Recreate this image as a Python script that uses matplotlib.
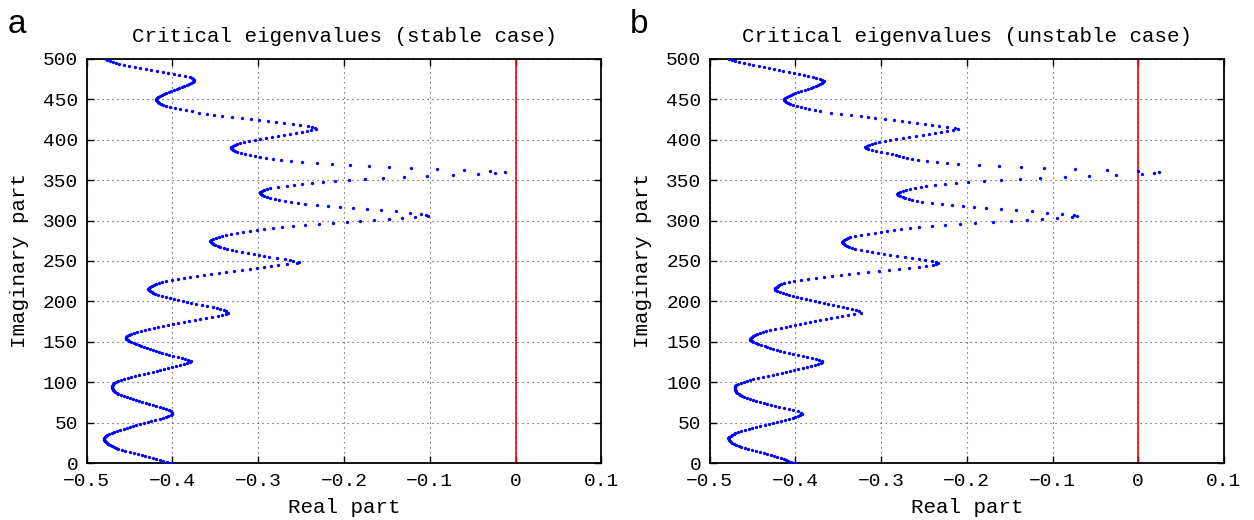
import matplotlib
matplotlib.use("Agg")
import matplotlib.pyplot as plt

# Imaginary parts of the eigenvalues (shared by both panels)
imag_part = [
    0, 2.5, 5, 7.5, 10, 12.5, 15, 17.5, 20, 22.5,
    25, 27.5, 30, 32.5, 35, 37.5, 40, 42.5, 45, 47.5,
    50, 52.5, 55, 57.5, 60, 62.5, 65, 67.5, 70, 72.5,
    75, 77.5, 80, 82.5, 85, 87.5, 90, 92.5, 95, 97.5,
    100, 102.5, 105, 107.5, 110, 112.5, 115, 117.5, 120, 122.5,
    125, 127.5, 130, 132.5, 135, 137.5, 140, 142.5, 145, 147.5,
    150, 152.5, 155, 157.5, 160, 162.5, 165, 167.5, 170, 172.5,
    175, 177.5, 180, 182.5, 185, 187.5, 190, 192.5, 195, 197.5,
    200, 202.5, 205, 207.5, 210, 212.5, 215, 217.5, 220, 222.5,
    225, 227.5, 230, 232.5, 235, 237.5, 240, 242.5, 245, 247.5,
    250, 252.5, 255, 257.5, 260, 262.5, 265, 267.5, 270, 272.5,
    275, 277.5, 280, 282.5, 285, 287.5, 290, 292.5, 295, 297.5,
    300, 302.5, 305, 307.5, 310, 312.5, 315, 317.5, 320, 322.5,
    325, 327.5, 330, 332.5, 335, 337.5, 340, 342.5, 345, 347.5,
    350, 352.5, 355, 357.5, 360, 362.5, 365, 367.5, 370, 372.5,
    375, 377.5, 380, 382.5, 385, 387.5, 390, 392.5, 395, 397.5,
    400, 402.5, 405, 407.5, 410, 412.5, 415, 417.5, 420, 422.5,
    425, 427.5, 430, 432.5, 435, 437.5, 440, 442.5, 445, 447.5,
    450, 452.5, 455, 457.5, 460, 462.5, 465, 467.5, 470, 472.5,
    475, 477.5, 480, 482.5, 485, 487.5, 490, 492.5, 495, 497.5,
    500,
]

# the eigenvalues lying between the ones above
imag_mid = [
    1.25, 3.75, 6.25, 8.75, 11.25, 13.75, 16.25, 18.75, 21.25, 23.75,
    26.25, 28.75, 31.25, 33.75, 36.25, 38.75, 41.25, 43.75, 46.25, 48.75,
    51.25, 53.75, 56.25, 58.75, 61.25, 63.75, 66.25, 68.75, 71.25, 73.75,
    76.25, 78.75, 81.25, 83.75, 86.25, 88.75, 91.25, 93.75, 96.25, 98.75,
    101.25, 103.75, 106.25, 108.75, 111.25, 113.75, 116.25, 118.75, 121.25, 123.75,
    126.25, 128.75, 131.25, 133.75, 136.25, 138.75, 141.25, 143.75, 146.25, 148.75,
    151.25, 153.75, 156.25, 158.75, 161.25, 163.75, 166.25, 168.75, 171.25, 173.75,
    176.25, 178.75, 181.25, 183.75, 186.25, 188.75, 191.25, 193.75, 196.25, 198.75,
    201.25, 203.75, 206.25, 208.75, 211.25, 213.75, 216.25, 218.75, 221.25, 223.75,
    226.25, 228.75, 231.25, 233.75, 236.25, 238.75, 241.25, 243.75, 246.25, 248.75,
    251.25, 253.75, 256.25, 258.75, 261.25, 263.75, 266.25, 268.75, 271.25, 273.75,
    276.25, 278.75, 281.25, 283.75, 286.25, 288.75, 291.25, 293.75, 296.25, 298.75,
    301.25, 303.75, 306.25, 308.75, 311.25, 313.75, 316.25, 318.75, 321.25, 323.75,
    326.25, 328.75, 331.25, 333.75, 336.25, 338.75, 341.25, 343.75, 346.25, 348.75,
    351.25, 353.75, 356.25, 358.75, 361.25, 363.75, 366.25, 368.75, 371.25, 373.75,
    376.25, 378.75, 381.25, 383.75, 386.25, 388.75, 391.25, 393.75, 396.25, 398.75,
    401.25, 403.75, 406.25, 408.75, 411.25, 413.75, 416.25, 418.75, 421.25, 423.75,
    426.25, 428.75, 431.25, 433.75, 436.25, 438.75, 441.25, 443.75, 446.25, 448.75,
    451.25, 453.75, 456.25, 458.75, 461.25, 463.75, 466.25, 468.75, 471.25, 473.75,
    476.25, 478.75, 481.25, 483.75, 486.25, 488.75, 491.25, 493.75, 496.25, 498.75,
]

# Real parts, stable case (panel a)
real_stable = [
    -0.402, -0.411, -0.419, -0.427, -0.436, -0.445, -0.455, -0.463, -0.468, -0.473,
    -0.476, -0.479, -0.480, -0.479, -0.476, -0.471, -0.465, -0.457, -0.450, -0.442,
    -0.433, -0.425, -0.415, -0.408, -0.402, -0.400, -0.404, -0.411, -0.419, -0.427,
    -0.435, -0.443, -0.449, -0.456, -0.463, -0.467, -0.469, -0.470, -0.470, -0.469,
    -0.466, -0.460, -0.452, -0.444, -0.433, -0.423, -0.414, -0.405, -0.396, -0.387,
    -0.380, -0.382, -0.389, -0.399, -0.408, -0.416, -0.4225, -0.430, -0.4365, -0.4425,
    -0.448, -0.452, -0.4545, -0.453, -0.448, -0.441, -0.432, -0.422, -0.411, -0.399,
    -0.387, -0.374, -0.361, -0.347, -0.338, -0.337, -0.344, -0.353, -0.366, -0.378,
    -0.388, -0.398, -0.408, -0.417, -0.4224, -0.426, -0.428, -0.426, -0.422, -0.416,
    -0.407, -0.394, -0.379, -0.363, -0.346, -0.328, -0.310, -0.293, -0.277, -0.255,
    -0.259, -0.269, -0.287, -0.299, -0.312, -0.326, -0.336, -0.344, -0.350, -0.354,
    -0.356, -0.353, -0.346, -0.337, -0.325, -0.310, -0.293, -0.272, -0.246, -0.213,
    -0.181, -0.148, -0.117, -0.104, -0.123, -0.157, -0.190, -0.219, -0.245, -0.262,
    -0.276, -0.286, -0.293, -0.297, -0.298, -0.293, -0.286, -0.267, -0.249, -0.225,
    -0.194, -0.155, -0.103, -0.044, -0.012, -0.060, -0.122, -0.171, -0.214, -0.249,
    -0.273, -0.291, -0.304, -0.315, -0.325, -0.329, -0.332, -0.329, -0.325, -0.317,
    -0.304, -0.291, -0.277, -0.263, -0.249, -0.238, -0.234, -0.242, -0.260, -0.279,
    -0.299, -0.319, -0.342, -0.360, -0.377, -0.391, -0.403, -0.411, -0.416, -0.418,
    -0.419, -0.4165, -0.412, -0.407, -0.4015, -0.395, -0.389, -0.383, -0.378, -0.375,
    -0.376, -0.380, -0.392, -0.405, -0.418, -0.431, -0.444, -0.457, -0.466, -0.473,
    -0.478,
]

real_stable_mid = [
    -0.4065, -0.415, -0.423, -0.4315, -0.4405, -0.450, -0.459, -0.4658, -0.4707, -0.4747,
    -0.4777, -0.4797, -0.4803, -0.4778, -0.4737, -0.468, -0.461, -0.4535, -0.446, -0.4375,
    -0.429, -0.420, -0.4113, -0.4048, -0.400, -0.4015, -0.4075, -0.415, -0.423, -0.431,
    -0.439, -0.446, -0.4525, -0.4595, -0.4652, -0.4682, -0.4697, -0.4703, -0.4697, -0.4677,
    -0.4633, -0.456, -0.448, -0.4385, -0.428, -0.4185, -0.4095, -0.4005, -0.3915, -0.383,
    -0.3785, -0.3852, -0.394, -0.4035, -0.412, -0.4193, -0.4263, -0.4333, -0.4395, -0.4453,
    -0.4502, -0.4538, -0.4543, -0.4508, -0.4447, -0.4367, -0.427, -0.4165, -0.405, -0.393,
    -0.3805, -0.3675, -0.354, -0.342, -0.335, -0.340, -0.3485, -0.3595, -0.372, -0.383,
    -0.393, -0.403, -0.4125, -0.4199, -0.4244, -0.4275, -0.4275, -0.4242, -0.419, -0.4117,
    -0.4007, -0.3866, -0.371, -0.3545, -0.337, -0.319, -0.3015, -0.285, -0.266, -0.253,
    -0.2635, -0.278, -0.293, -0.3055, -0.319, -0.331, -0.340, -0.347, -0.3522, -0.3555,
    -0.355, -0.3498, -0.3418, -0.3313, -0.3178, -0.3018, -0.2828, -0.259, -0.2295, -0.197,
    -0.1645, -0.1325, -0.1025, -0.1105, -0.140, -0.1735, -0.2045, -0.232, -0.2538, -0.269,
    -0.281, -0.2897, -0.2953, -0.298, -0.2962, -0.290, -0.277, -0.258, -0.2375, -0.2105,
    -0.1755, -0.130, -0.073, -0.024, -0.030, -0.092, -0.148, -0.193, -0.232, -0.2615,
    -0.2825, -0.298, -0.310, -0.3205, -0.3275, -0.331, -0.3315, -0.3275, -0.3215, -0.3105,
    -0.2975, -0.284, -0.270, -0.256, -0.2432, -0.2325, -0.237, -0.251, -0.2695, -0.289,
    -0.309, -0.3305, -0.351, -0.3685, -0.384, -0.397, -0.4072, -0.4137, -0.4173, -0.4188,
    -0.418, -0.4145, -0.4095, -0.4043, -0.3983, -0.392, -0.386, -0.3805, -0.3763, -0.3745,
    -0.3775, -0.3855, -0.3985, -0.4115, -0.4245, -0.4375, -0.4505, -0.462, -0.4697, -0.4757,
]

# Real parts, unstable case (panel b)
real_unstable = [
    -0.401, -0.409, -0.4135, -0.421, -0.429, -0.437, -0.446, -0.455, -0.463, -0.469,
    -0.4735, -0.4765, -0.478, -0.477, -0.474, -0.470, -0.463, -0.4545, -0.446, -0.436,
    -0.426, -0.417, -0.407, -0.400, -0.395, -0.393, -0.403, -0.4135, -0.424, -0.433,
    -0.441, -0.450, -0.457, -0.462, -0.466, -0.469, -0.470, -0.4706, -0.470, -0.467,
    -0.460, -0.4535, -0.444, -0.432, -0.421, -0.411, -0.402, -0.391, -0.382, -0.3734,
    -0.369, -0.3725, -0.381, -0.391, -0.403, -0.413, -0.422, -0.430, -0.436, -0.4435,
    -0.449, -0.453, -0.452, -0.449, -0.445, -0.438, -0.430, -0.417, -0.406, -0.395,
    -0.383, -0.371, -0.358, -0.346, -0.332, -0.326, -0.334, -0.345, -0.356, -0.367,
    -0.377, -0.388, -0.398, -0.407, -0.415, -0.421, -0.424, -0.422, -0.419, -0.413,
    -0.402, -0.385, -0.367, -0.347, -0.327, -0.303, -0.279, -0.256, -0.240, -0.234,
    -0.241, -0.256, -0.272, -0.290, -0.304, -0.317, -0.330, -0.337, -0.342, -0.344,
    -0.345, -0.341, -0.336, -0.324, -0.307, -0.293, -0.277, -0.256, -0.225, -0.191,
    -0.148, -0.112, -0.077, -0.075, -0.106, -0.143, -0.178, -0.205, -0.229, -0.252,
    -0.264, -0.272, -0.278, -0.281, -0.278, -0.271, -0.260, -0.248, -0.226, -0.199,
    -0.160, -0.115, -0.057, 0.004, 0.024, -0.037, -0.110, -0.162, -0.210, -0.235,
    -0.257, -0.270, -0.279, -0.287, -0.300, -0.311, -0.318, -0.317, -0.311, -0.302,
    -0.290, -0.275, -0.259, -0.244, -0.230, -0.216, -0.214, -0.232, -0.249, -0.267,
    -0.285, -0.307, -0.324, -0.347, -0.371, -0.384, -0.394, -0.403, -0.409, -0.412,
    -0.4134, -0.410, -0.405, -0.4006, -0.393, -0.385, -0.379, -0.374, -0.369, -0.367,
    -0.371, -0.380, -0.390, -0.402, -0.414, -0.425, -0.437, -0.449, -0.460, -0.471,
    -0.477,
]

real_unstable_mid = [
    -0.405, -0.4112, -0.417, -0.425, -0.433, -0.4415, -0.4505, -0.459, -0.466, -0.4713,
    -0.4752, -0.4775, -0.4783, -0.4758, -0.4722, -0.4667, -0.4588, -0.4503, -0.441, -0.431,
    -0.4215, -0.412, -0.4033, -0.3973, -0.3925, -0.3975, -0.408, -0.419, -0.4285, -0.437,
    -0.4455, -0.4535, -0.4597, -0.4642, -0.4677, -0.4697, -0.4705, -0.4708, -0.4688, -0.4637,
    -0.4568, -0.449, -0.438, -0.4265, -0.416, -0.4065, -0.3965, -0.3865, -0.3777, -0.3707,
    -0.3685, -0.3765, -0.386, -0.397, -0.408, -0.4175, -0.426, -0.433, -0.4398, -0.4463,
    -0.4512, -0.4532, -0.4508, -0.4472, -0.4417, -0.434, -0.4235, -0.4115, -0.4005, -0.389,
    -0.377, -0.3645, -0.352, -0.339, -0.3235, -0.3295, -0.3395, -0.3505, -0.3615, -0.372,
    -0.3825, -0.393, -0.4025, -0.411, -0.418, -0.4233, -0.4237, -0.4207, -0.4163, -0.408,
    -0.3938, -0.376, -0.357, -0.337, -0.315, -0.291, -0.2675, -0.2475, -0.2355, -0.2355,
    -0.2485, -0.264, -0.281, -0.297, -0.3105, -0.3235, -0.334, -0.3397, -0.3432, -0.3452,
    -0.3435, -0.3387, -0.330, -0.3155, -0.300, -0.285, -0.2665, -0.2405, -0.208, -0.1695,
    -0.130, -0.0945, -0.0715, -0.0895, -0.1245, -0.1605, -0.1915, -0.217, -0.2405, -0.258,
    -0.268, -0.275, -0.2798, -0.2808, -0.275, -0.2658, -0.254, -0.2375, -0.2125, -0.180,
    -0.1375, -0.086, -0.0265, 0.018, 0.000, -0.0735, -0.137, -0.186, -0.2235, -0.2465,
    -0.2635, -0.2745, -0.283, -0.2935, -0.3055, -0.3152, -0.3185, -0.3145, -0.3068, -0.296,
    -0.2825, -0.267, -0.2515, -0.237, -0.223, -0.2105, -0.223, -0.2405, -0.258, -0.276,
    -0.296, -0.3155, -0.3355, -0.359, -0.3775, -0.389, -0.3985, -0.406, -0.4105, -0.4128,
    -0.4122, -0.4075, -0.4028, -0.3968, -0.389, -0.382, -0.3765, -0.3715, -0.3678, -0.3685,
    -0.3755, -0.385, -0.396, -0.408, -0.4195, -0.431, -0.443, -0.4545, -0.4655, -0.474,
]

x_ticks = [-0.5, -0.4, -0.3, -0.2, -0.1, 0, 0.1]
x_tick_labels = ["\u22120.5", "\u22120.4", "\u22120.3", "\u22120.2", "\u22120.1", "0", "0.1"]
y_ticks = [0, 50, 100, 150, 200, 250, 300, 350, 400, 450, 500]
stability_limit = 0
titles = ["Critical eigenvalues (stable case)", "Critical eigenvalues (unstable case)"]
letters = ["a", "b"]

plt.rcParams["font.family"] = ["Liberation Mono", "DejaVu Sans"]


def draw_panel(fig, rect, real, real_mid, title, letter, letter_x):
    ax = fig.add_axes(rect)
    ax.set_axisbelow(True)
    ax.grid(True, linestyle=(0, (1, 3.5)), color="0.25", linewidth=0.8)
    ax.axvline(stability_limit, color="red", linewidth=1.2, zorder=2)
    ax.plot(real + real_mid, imag_part + imag_mid, "o", color="blue",
            markersize=2.4, markeredgewidth=0, linestyle="none", zorder=3)

    ax.set_xlim(-0.5, 0.1)
    ax.set_ylim(0, 500)
    ax.set_xticks(x_ticks)
    ax.set_xticklabels(x_tick_labels)
    ax.set_yticks(y_ticks)
    ax.tick_params(direction="in", top=True, right=True, length=5, width=1,
                   labelsize=14)
    ax.tick_params(axis="x", pad=7)
    ax.tick_params(axis="y", pad=6)
    for s in ax.spines.values():
        s.set_linewidth(1.3)

    ax.set_title(title, fontsize=15, pad=12)
    ax.set_xlabel("Real part", fontsize=15, labelpad=6)
    ax.set_ylabel("Imaginary part", fontsize=15, labelpad=10)
    fig.text(letter_x, 0.937, letter, fontsize=24, family="Liberation Sans",
             va="baseline")
    return ax


fig = plt.figure(figsize=(12.54, 5.2), dpi=100)
draw_panel(fig, [0.0691, 0.1096, 0.4105, 0.777], real_stable, real_stable_mid,
           titles[0], letters[0], 0.006)
draw_panel(fig, [0.5660, 0.1096, 0.4100, 0.777], real_unstable, real_unstable_mid,
           titles[1], letters[1], 0.502)

fig.savefig("out.png", dpi=100)
